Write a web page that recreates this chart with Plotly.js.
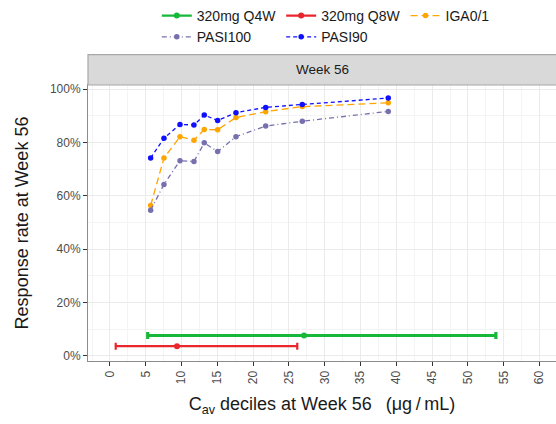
<!DOCTYPE html>
<html>
<head>
<meta charset="utf-8">
<script src="https://cdn.plot.ly/plotly-3.0.1.min.js"></script>
<style>
  html, body { margin: 0; padding: 0; background: #ffffff; }
  #chart { width: 556px; height: 424px; }
</style>
</head>
<body>
<div id="chart"></div>
<script>
// Cav decile midpoints (µg/mL) and response rates (%) at Week 56
const cavDeciles = [5.68, 7.54, 9.78, 11.73, 13.17, 15.04, 17.6, 21.75, 26.86, 38.87];
const pasi90  = [74.2, 81.6, 86.8, 86.6, 90.3, 88.3, 91.2, 93.2, 94.3, 96.7];
const iga01   = [56.4, 74.2, 82.2, 80.9, 84.9, 84.8, 89.4, 91.6, 93.5, 94.9];
const pasi100 = [54.6, 64.3, 73.2, 72.9, 79.9, 76.6, 82.2, 86.2, 88.0, 91.7];

// Exposure ranges by dose regimen (low, median, high Cav) and their row height
const doseNames  = ['320mg Q4W', '320mg Q8W'];
const doseLow    = [5.27, 0.8];
const doseMedian = [27.1, 9.36];
const doseHigh   = [53.9, 26.16];
const doseRowY   = [7.6, 3.6];

const xTicks = [0, 5, 10, 15, 20, 25, 30, 35, 40, 45, 50, 55, 60];
const yTicks = [0, 20, 40, 60, 80, 100];

const FONT = 'Liberation Sans, Arial, Helvetica, sans-serif';

function doseTrace(i, color, thick) {
  return {
    type: 'scatter', mode: 'lines+markers', name: doseNames[i],
    x: [doseMedian[i]], y: [doseRowY[i]],
    marker: { color: color, size: 6 },
    line: { color: color, width: 2.2 },
    error_x: {
      type: 'data', symmetric: false,
      array: [doseHigh[i] - doseMedian[i]],
      arrayminus: [doseMedian[i] - doseLow[i]],
      color: color, thickness: thick, width: 3.5
    },
    hoverinfo: 'skip'
  };
}

function rateTrace(name, values, color, dash) {
  return {
    type: 'scatter', mode: 'lines+markers', name: name,
    x: cavDeciles, y: values,
    line: { color: color, width: 1.3, dash: dash },
    marker: { color: color, size: 5.5 }
  };
}

const traces = [
  doseTrace(0, '#17B83A', 3.2),
  doseTrace(1, '#E8262B', 2.2),
  rateTrace('IGA0/1', iga01, '#FFA500', '7px,4px'),
  rateTrace('PASI100', pasi100, '#7670AE', '5px,3px,1px,3px'),
  rateTrace('PASI90', pasi90, '#1010FF', '4px,3px')
];

const layout = {
  width: 556, height: 424,
  margin: { l: 88, r: 0, t: 83, b: 63 },
  paper_bgcolor: '#ffffff', plot_bgcolor: '#ffffff',
  font: { family: FONT, color: '#1A1A1A' },
  showlegend: true,
  legend: {
    orientation: 'h', traceorder: 'normal',
    x: 0.147, y: 1.309, xanchor: 'left', yanchor: 'top',
    font: { family: FONT, size: 14, color: '#1A1A1A' },
    itemwidth: 30, bgcolor: 'rgba(0,0,0,0)'
  },
  xaxis: {
    range: [-3.07, 62.3],
    tickvals: xTicks, ticktext: xTicks.map(String),
    tickangle: -90,
    tickfont: { family: FONT, size: 12, color: '#4D4D4D' },
    ticks: 'outside', ticklen: 4, tickcolor: '#333333', tickwidth: 1,
    showline: true, linecolor: '#8C8C8C', linewidth: 1, mirror: true,
    showgrid: true, gridcolor: '#EBEBEB', gridwidth: 1,
    minor: { dtick: 2.5, tick0: 0, showgrid: true, gridcolor: '#F4F4F4', gridwidth: 1 },
    zeroline: false, automargin: false,
    title: { text: 'C<sub>av</sub> deciles at Week 56\u2002 (\u03BCg\u2009/\u2009mL)', font: { family: FONT, size: 18, color: '#1A1A1A' }, standoff: 14 }
  },
  yaxis: {
    range: [-1.97, 101.6],
    tickvals: yTicks, ticktext: yTicks.map(v => v + '%'),
    tickfont: { family: FONT, size: 12, color: '#4D4D4D' },
    ticks: 'outside', ticklen: 4, tickcolor: '#333333', tickwidth: 1,
    showline: true, linecolor: '#8C8C8C', linewidth: 1, mirror: true,
    showgrid: true, gridcolor: '#EBEBEB', gridwidth: 1,
    minor: { dtick: 10, tick0: 0, showgrid: true, gridcolor: '#F4F4F4', gridwidth: 1 },
    zeroline: false, automargin: false,
    title: { text: 'Response rate at Week 56', font: { family: FONT, size: 18, color: '#1A1A1A' }, standoff: 16 }
  },
  shapes: [
    // facet strip
    { type: 'rect', xref: 'paper', yref: 'paper', x0: 0, x1: 1.01, y0: 1, y1: 1.1097,
      fillcolor: '#D9D9D9', line: { color: '#A8A8A8', width: 1.2 }, layer: 'above' }
  ],
  annotations: [
    { xref: 'paper', yref: 'paper', x: 0.5, y: 1.0548, text: 'Week 56', showarrow: false,
      xanchor: 'center', yanchor: 'middle', font: { family: FONT, size: 13.5, color: '#1A1A1A' } }
  ]
};

Plotly.newPlot('chart', traces, layout, { displayModeBar: false, staticPlot: true });
</script>
</body>
</html>
